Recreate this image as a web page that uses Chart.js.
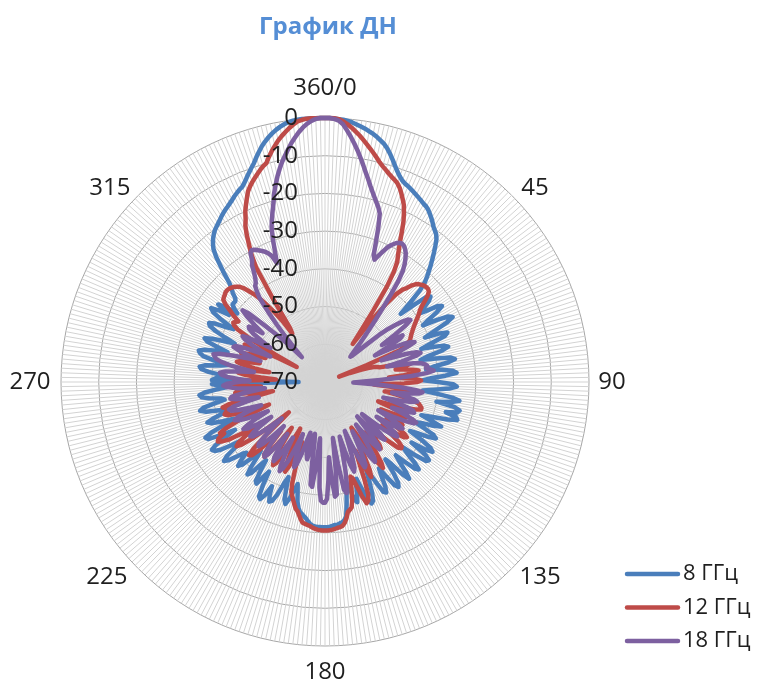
<!DOCTYPE html>
<html>
<head>
<meta charset="utf-8">
<title>График ДН</title>
<script src="https://cdn.jsdelivr.net/npm/chart.js@4.4.1/dist/chart.umd.min.js"></script>
<style>
  html, body { margin: 0; padding: 0; background: #fff; }
  #wrap { width: 757px; height: 686px; position: relative; }
</style>
</head>
<body>
<div id="wrap"><canvas id="dn"></canvas></div>
<script>
// one spoke per degree, 0 is labelled "360/0"
const angles = Array.from({ length: 360 }, (_, i) => (i === 0 ? '360/0' : String(i)));
const angleTicks = [0, 45, 90, 135, 180, 225, 270, 315];
const seriesNames = ['8 ГГц', '12 ГГц', '18 ГГц'];
const seriesColors = ['#4A7EBB', '#BE4B48', '#7D60A0'];
const dbMin = -70;
const dbMax = 0;
const dbStep = 10;

// 8 GHz, dB, 0..359 deg
const dn8 = [
  0, 0, -0.1, -0.2, -0.3, -0.5, -0.8, -1.2, -1.6, -2,
  -2.5, -3, -3.6, -4.3, -5, -6, -7.2, -8.5, -9.8, -11,
  -12, -12.8, -13.3, -13.6, -14, -14.4, -14.8, -15.2, -15.6, -16,
  -16.3, -16.8, -17.5, -18.2, -19, -19.8, -20.4, -21, -22, -23.5,
  -25, -26.5, -28, -29.5, -31, -32.5, -35, -39, -43, -39,
  -35, -34, -35, -37, -39, -37, -34, -33, -35, -38,
  -40, -36, -33, -32, -34, -38, -41, -37, -35, -36,
  -40, -43, -40, -37, -36, -38, -42, -44, -40, -36,
  -35, -37, -41, -43, -39, -36, -35, -38, -42, -44,
  -40, -36, -35, -37, -41, -44, -40, -36, -34, -36,
  -40, -35, -33.5, -34, -37, -34, -33.5, -36, -40, -43,
  -40, -37, -39, -42, -44, -41, -38, -37, -39, -42,
  -44, -40, -37, -36, -38, -42, -37, -35.5, -36, -39,
  -43, -41, -38, -36, -37, -40, -43, -41, -38, -36,
  -38, -42, -44, -40, -37, -36, -37, -40, -43, -41,
  -38, -36.5, -37, -40, -43, -44, -41, -38, -36, -35.5,
  -37, -40, -43, -42, -39, -37, -38, -41, -42, -40,
  -37, -34, -33, -32.5, -32.3, -32, -32, -31.8, -31.6, -31.5,
  -31.5, -31.5, -31.5, -31.5, -31.6, -31.8, -32.2, -32.8, -33.5, -34,
  -34.5, -35, -36, -37.5, -40, -42, -40, -37.5, -36, -37,
  -40, -43, -41, -37.5, -35.5, -35, -36.5, -39, -36, -34.5,
  -35, -38, -42, -40, -37.5, -38, -41, -44, -42, -39,
  -38, -40, -43, -45, -42, -39, -38, -39.5, -42, -41,
  -39, -37, -36, -37.5, -41, -43, -40, -37, -35.5, -35,
  -36.5, -40, -43, -39, -35.5, -35, -37, -41, -44, -41,
  -38, -37, -39, -42, -44, -41, -37.5, -36, -37, -40,
  -43, -42, -39, -37, -36.5, -38, -41, -44, -42, -40,
  -63, -40, -41, -44, -42, -39, -37, -36.5, -38, -42,
  -44, -40, -37, -36, -35.5, -37, -40, -43, -40, -37,
  -36, -38, -41, -44, -41, -38, -36, -35.5, -37, -40,
  -42, -38, -35, -34, -36, -39, -35, -37, -40.5, -39,
  -38, -38, -38, -37.5, -36, -35, -33.5, -31, -28.6, -26,
  -24, -22.8, -21.8, -21, -20.3, -19.8, -19.3, -18.8, -18.2, -17.7,
  -17.2, -16.8, -16.3, -15.8, -15.2, -14.7, -14.2, -13.8, -13, -12,
  -11, -10, -9, -7.7, -6.5, -5.3, -4.3, -3.4, -2.6, -1.9,
  -1.3, -0.8, -0.4, -0.2, -0.1, 0, 0, 0, 0, 0
];

// 12 GHz
const dn12 = [
  0, 0, 0, -0.2, -0.7, -1.4, -2.2, -3.1, -4, -5,
  -6, -7, -8, -9, -10, -10.8, -11.5, -12.2, -12.8, -13.3,
  -13.9, -14.8, -16, -17.3, -18.6, -20.5, -22.5, -25, -27.5, -29.5,
  -31.3, -32.8, -35.5, -40, -47, -53, -57.5, -50, -44, -40,
  -38, -37, -35.5, -34.5, -34, -33.6, -33.3, -33.2, -33.2, -33.5,
  -34.5, -36, -37.5, -38.5, -39.2, -40, -40.8, -41.5, -42.2, -42.8,
  -43.3, -43.8, -44.2, -44.6, -45, -46, -47, -48.5, -58, -66,
  -63, -60, -58, -56.5, -55.5, -55, -52, -49, -47, -48.5,
  -51, -49, -46.5, -45, -46, -49, -53, -50, -46, -44.5,
  -45.5, -49, -54, -57, -53, -49, -47, -48, -51, -54,
  -51, -48, -46, -44.5, -44, -43.5, -43.5, -45, -48, -52,
  -55, -51, -47.5, -46, -47, -50, -53.5, -50, -47.5, -46.5,
  -48, -51, -48, -45, -43.8, -44.5, -47, -51, -48, -45,
  -43.5, -43.2, -44, -47, -51, -54, -50, -56, -52, -48,
  -47, -50, -53, -50, -47, -44, -42.5, -45, -50, -54,
  -56, -53, -48, -44, -42, -45, -50, -47, -42, -38,
  -36.5, -36, -38, -41, -43.5, -44, -41, -38, -36, -35.5,
  -35, -33.5, -32.3, -31.6, -31.3, -31.2, -31, -30.8, -30.7, -30.6,
  -30.6, -30.6, -30.7, -30.8, -31, -31.3, -31.6, -31.8, -32, -32.2,
  -33, -34, -35, -35.5, -36.5, -37.5, -38.5, -39.5, -42, -46,
  -50, -53, -50, -46, -44, -45.5, -49, -53, -56, -52,
  -47.5, -45, -44, -45, -48, -52, -55, -51, -46.5, -44.5,
  -45, -48, -52.5, -49, -45, -42.5, -42, -44, -49, -55,
  -57.5, -52, -46, -42.5, -41, -42, -45, -49, -45, -40.5,
  -38.5, -37.5, -38, -40, -39, -41, -45, -50, -54, -50,
  -45.5, -43, -42, -42.5, -44.5, -43, -42, -44, -48, -53,
  -56, -52, -48, -46, -46.5, -49, -53, -50, -47, -45.5,
  -46, -49, -54, -57, -53, -49, -47, -46.5, -48, -51.5,
  -55, -51, -47.5, -46, -47, -50, -52, -49, -47, -46.5,
  -48, -51, -53, -50, -47, -46.5, -50, -56, -61.5, -55,
  -47, -43, -41.5, -41, -41.5, -42, -40, -38.4, -36.5, -35.3,
  -35, -34.8, -34.5, -34.4, -34.5, -34.7, -35, -35.5, -36, -37,
  -38.5, -40, -42, -44.5, -47, -50, -54.5, -53, -44, -34.5,
  -31, -28.5, -25.8, -23.5, -22, -20, -18.5, -17, -15.5, -14.5,
  -13.6, -12.8, -12, -11.2, -10.5, -9.9, -8.5, -7.2, -6, -4.8,
  -3.8, -2.9, -2, -1.2, -0.5, -0.2, 0, 0, 0, 0
];

// 18 GHz
const dn18 = [
  0, 0, -0.2, -0.6, -1.5, -3, -4.6, -6.3, -8, -9.8,
  -11.6, -13.4, -15, -16.6, -18, -19.3, -20.5, -21.6, -23, -26.5,
  -30.5, -34, -35, -33.5, -32, -30.5, -29.5, -28.7, -28.2, -28,
  -28.2, -28.8, -29.6, -30.8, -32.2, -34, -37, -41, -45, -48.5,
  -51.5, -54, -56, -58, -59.5, -60.5, -60, -58, -55, -51,
  -48, -46, -44, -42.5, -42, -44, -48, -52, -49, -46,
  -47, -51, -55, -51, -47, -45, -44, -46.5, -50, -54,
  -51, -47, -44.5, -43.5, -45, -49, -53, -50, -46, -44,
  -43, -42.5, -43, -42, -41, -43, -47, -52, -56, -59,
  -61, -62.5, -60, -55, -50, -46, -44, -45, -48.5, -52,
  -49, -46, -45, -46.5, -50, -54, -51, -47.5, -45.5, -45,
  -47, -51, -48, -45, -43.5, -44, -46.5, -50, -54, -51,
  -47.5, -46, -47, -50, -53.5, -50, -47, -46, -47, -50,
  -54, -57, -54, -50, -48, -49, -52, -57.5, -55, -51,
  -48, -47, -49, -53, -56, -53, -49, -46, -45, -47,
  -51, -55, -52, -48, -45.5, -45, -47.5, -52, -56, -53,
  -49, -46, -45, -47, -51, -55, -51, -46, -42, -40,
  -41, -48, -55, -47, -40, -39.5, -44, -50, -44, -39,
  -38, -38, -38.5, -42, -50, -55, -48, -42, -42.5, -48,
  -54, -56, -52, -49, -50, -53, -56, -54, -50, -47,
  -46, -48, -52, -55, -51, -47, -44.5, -43.5, -45, -49,
  -53, -50, -46.5, -45, -46, -49, -53, -50, -46, -44.5,
  -45, -47.5, -51, -54, -50, -47, -45.5, -46, -48.5, -52,
  -55, -51, -48, -46, -45.5, -47, -50, -53, -49, -46,
  -45, -46.5, -49.5, -53, -50, -47, -45, -44, -45, -48,
  -52, -49, -46, -44, -43.5, -45, -48.5, -52, -49, -46,
  -44.5, -45, -47.5, -51, -54, -50, -46.5, -44, -43, -44,
  -47, -50, -47, -44, -42.5, -42, -43.5, -47, -51, -48,
  -44.5, -42, -40.5, -40, -39.5, -41, -44.5, -48.5, -52, -49,
  -46, -44, -44.5, -47, -51, -54, -51, -48, -46, -45,
  -46.5, -50, -53, -50, -47, -45.5, -45, -46.5, -49, -46,
  -43, -41, -43, -47.5, -51, -54, -57.5, -61, -58, -54,
  -50, -46, -42, -40, -38.5, -38, -37, -35.5, -33.5, -32.5,
  -30.5, -30, -30.3, -30.8, -31.3, -31.8, -32.5, -33.5, -36, -33,
  -29.5, -26.5, -24.5, -22.5, -20.5, -18, -16, -14, -12.2, -10.5,
  -9, -7.5, -6, -4.7, -3.4, -2.3, -1.4, -0.7, -0.2, 0
];

const textColor = '#1f1f1f';
const font = '"Open Sans", "Noto Sans", sans-serif';
// small nudges so the angle labels sit where Excel puts them
const labelNudge = {
  0: [0, -4], 45: [5, 11], 90: [-3, 0], 135: [10, -10],
  180: [0, 0], 225: [-13, -10], 270: [-5, 0], 315: [-10, 11]
};

// title, legend, tick and angle labels in Excel style
const decor = {
  id: 'decor',
  afterDatasetsDraw(chart) {
    const ctx = chart.ctx;
    const r = chart.scales.r;
    ctx.save();
    ctx.fillStyle = textColor;
    ctx.font = '24px ' + font;
    ctx.textBaseline = 'middle';

    // dB labels left of the vertical axis
    ctx.textAlign = 'right';
    r.ticks.forEach(t => {
      const d = r.getDistanceFromCenterForValue(t.value);
      ctx.fillText(String(t.value), r.xCenter - 27, r.yCenter - d);
    });

    // angle labels
    ctx.textAlign = 'center';
    angleTicks.forEach(i => {
      const p = r.getPointPosition(i, r.drawingArea + 26);
      const n = labelNudge[i];
      ctx.fillText(angles[i], p.x + n[0], p.y + n[1]);
    });

    // title
    ctx.fillStyle = '#558ED5';
    ctx.font = 'bold 24px ' + font;
    ctx.fillText('График ДН', 328, 27);

    // legend
    ctx.font = '22px ' + font;
    ctx.textAlign = 'left';
    ctx.lineCap = 'round';
    ctx.lineWidth = 4.5;
    seriesNames.forEach((name, k) => {
      const y = 574 + k * 33.5;
      ctx.strokeStyle = seriesColors[k];
      ctx.beginPath();
      ctx.moveTo(627, y);
      ctx.lineTo(678, y);
      ctx.stroke();
      ctx.fillStyle = textColor;
      ctx.fillText(name, 683, y);
    });
    ctx.restore();
  }
};

function makeSet(k, data, order) {
  return {
    label: seriesNames[k],
    data: data,
    borderColor: seriesColors[k],
    borderWidth: 4.5,
    borderJoinStyle: 'round',
    borderCapStyle: 'round',
    pointRadius: 0,
    fill: false,
    tension: 0,
    order: order
  };
}

const chart = new Chart(document.getElementById('dn'), {
  type: 'radar',
  data: {
    labels: angles,
    datasets: [makeSet(0, dn8, 3), makeSet(1, dn12, 2), makeSet(2, dn18, 1)]
  },
  options: {
    responsive: true,
    maintainAspectRatio: false,
    animation: false,
    events: [],
    layout: { padding: { left: 61, right: 168, top: 118, bottom: 40 } },
    plugins: {
      legend: { display: false },
      tooltip: { enabled: false },
      title: { display: false }
    },
    scales: {
      r: {
        min: dbMin,
        max: dbMax,
        ticks: { display: false, stepSize: dbStep },
        grid: { circular: true, color: '#a6a6a6', lineWidth: 1 },
        angleLines: { color: '#d3d3d3', lineWidth: 1 },
        pointLabels: { display: false }
      }
    }
  },
  plugins: [decor]
});
</script>
</body>
</html>
